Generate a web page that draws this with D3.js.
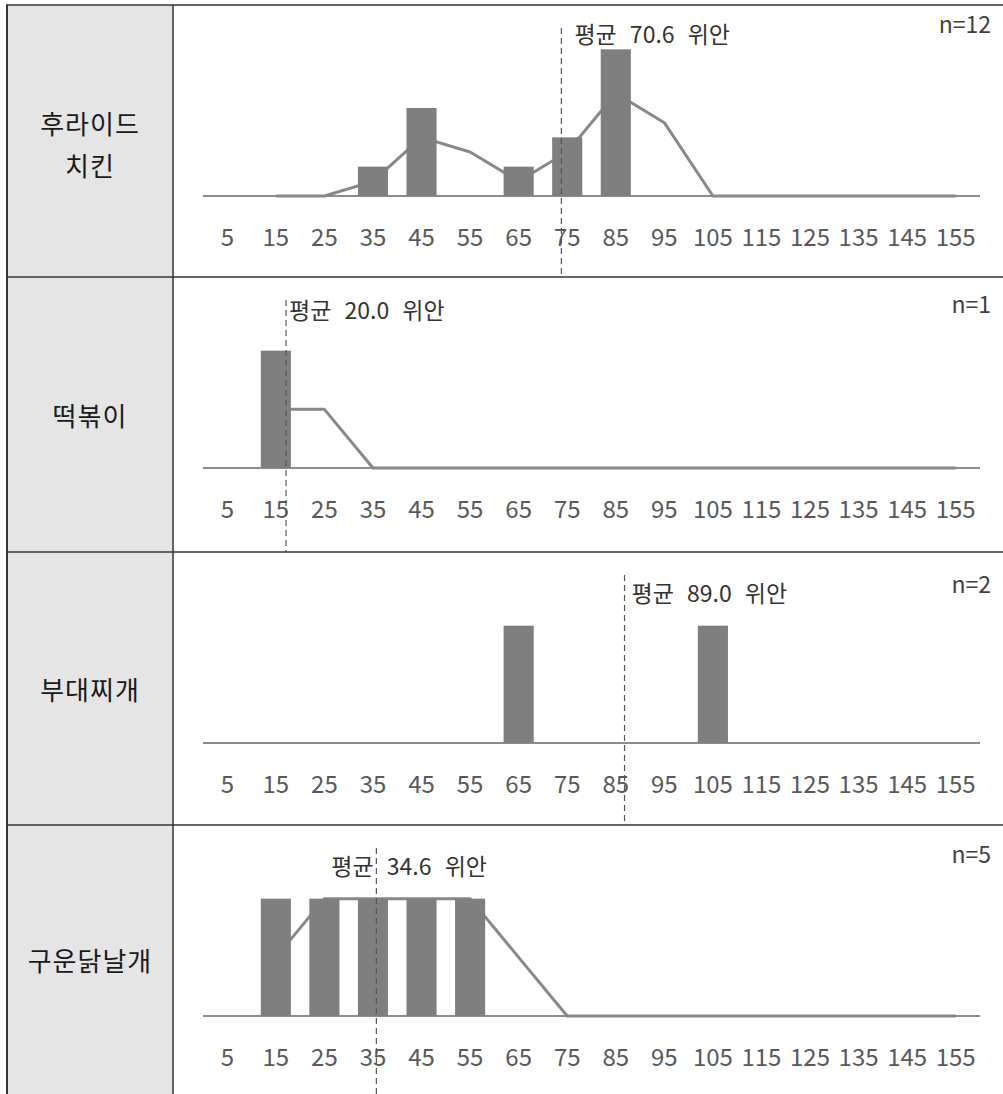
<!DOCTYPE html>
<html>
<head>
<meta charset="utf-8">
<script src="https://cdn.jsdelivr.net/npm/d3@7"></script>
<style>
  html, body { margin: 0; padding: 0; background: #fff; }
  svg text { font-family: "Noto Sans CJK KR", "Noto Sans", sans-serif; }
</style>
</head>
<body>
<svg id="chart" width="1003" height="1094"></svg>
<script>
// ---------- data ----------
const categories = [5, 15, 25, 35, 45, 55, 65, 75, 85, 95, 105, 115, 125, 135, 145, 155];
const rowLabels = [["후라이드", "치킨"], ["떡볶이"], ["부대찌개"], ["구운닭날개"]];
const counts1 = [0, 0, 0, 1, 3, 0, 1, 2, 5, 0, 0, 0, 0, 0, 0, 0];
const counts2 = [0, 1, 0, 0, 0, 0, 0, 0, 0, 0, 0, 0, 0, 0, 0, 0];
const counts3 = [0, 0, 0, 0, 0, 0, 1, 0, 0, 0, 1, 0, 0, 0, 0, 0];
const counts4 = [0, 1, 1, 1, 1, 1, 0, 0, 0, 0, 0, 0, 0, 0, 0, 0];
// trend lines (moving average as drawn in each panel; null = not drawn)
const trend1 = [null, 0, 0, 0.5, 2, 1.5, 0.5, 1.5, 3.5, 2.5, 0, 0, 0, 0, 0, 0];
const trend2 = [null, 0.5, 0.5, 0, 0, 0, 0, 0, 0, 0, 0, 0, 0, 0, 0, 0];
const trend3 = null;
const trend4 = [null, 0.5, 1, 1, 1, 1, 0.5, 0, 0, 0, 0, 0, 0, 0, 0, 0];
const nValues = [12, 1, 2, 5];
const meanValues = [70.6, 20.0, 89.0, 34.6];
// axis value at which the dashed mean marker is drawn in the picture
const meanMarkerAt = [73.8, 17.1, 86.8, 35.7];
const yMaxValues = [6, 1.5, 1.5, 1.5];

const panels = [
  { counts: counts1, trend: trend1 },
  { counts: counts2, trend: trend2 },
  { counts: counts3, trend: trend3 },
  { counts: counts4, trend: trend4 }
];

// ---------- layout ----------
const W = 1003, Hsvg = 1094;
const rowTops = [5, 277, 552, 825];
const rowBottoms = [277, 552, 825, 1094];
const tableLeft = 7, labelRight = 173;
const xLeft = 203, xRight = 980;
const baseOffset = 191;      // baseline below row top
const plotH = 176;           // height of value axis
const meanLabelDx = [13, 3, 7, -45];
const meanLabelDy = [28, 32, 40, 40];
const nLabelDy = [18, 26, 31, 28];

const svg = d3.select("#chart");

// label column background
svg.append("rect")
  .attr("x", tableLeft).attr("y", rowTops[0])
  .attr("width", labelRight - tableLeft).attr("height", Hsvg - rowTops[0])
  .attr("fill", "#e5e5e5");

const xBand = d3.scaleBand().domain(categories).range([xLeft, xRight])
  .paddingInner(0.38).paddingOuter(0.19);
const xCenter = c => xBand(c) + xBand.bandwidth() / 2;
// linear mapping of axis values onto the category positions
const xLin = d3.scaleLinear()
  .domain([categories[0], categories[categories.length - 1]])
  .range([xCenter(categories[0]), xCenter(categories[categories.length - 1])]);

panels.forEach((p, i) => {
  const top = rowTops[i], bottom = rowBottoms[i];
  const base = top + baseOffset;
  const y = d3.scaleLinear().domain([0, yMaxValues[i]]).range([base, base - plotH]);
  const g = svg.append("g");

  // row label
  const lines = rowLabels[i];
  const cy = (top + bottom) / 2 + (lines.length > 1 ? 2 : 0);
  const lh = 42;
  lines.forEach((t, k) => {
    g.append("text")
      .attr("x", (tableLeft + labelRight) / 2)
      .attr("y", cy + (k - (lines.length - 1) / 2) * lh)
      .attr("text-anchor", "middle")
      .attr("dominant-baseline", "central")
      .attr("font-size", 26)
      .attr("letter-spacing", 1)
      .attr("fill", "#1a1a1a")
      .text(t);
  });

  // axis (baseline + tick labels)
  const axis = d3.axisBottom(xBand).tickSize(0).tickPadding(0);
  const ag = g.append("g").attr("transform", `translate(0,${base})`).call(axis);
  ag.select(".domain").attr("stroke", "#8c8c8c").attr("stroke-width", 2)
    .attr("d", `M${xLeft},0H${xRight}`);
  ag.selectAll(".tick text")
    .attr("y", 39).attr("dy", null)
    .attr("dominant-baseline", "central")
    .attr("font-size", 24)
    .attr("font-family", "'Noto Sans CJK KR', 'Noto Sans', sans-serif")
    .attr("fill", "#595959");

  // trend line (behind bars)
  if (p.trend) {
    const pts = categories.map((c, k) => ({ c, v: p.trend[k] })).filter(d => d.v !== null);
    g.append("path")
      .datum(pts)
      .attr("fill", "none")
      .attr("stroke", "#888888")
      .attr("stroke-width", 3)
      .attr("stroke-linejoin", "round")
      .attr("d", d3.line().x(d => xCenter(d.c)).y(d => y(d.v)));
  }

  // bars
  g.selectAll("rect.bar")
    .data(categories.map((c, k) => ({ c, v: p.counts[k] })).filter(d => d.v > 0))
    .join("rect")
    .attr("class", "bar")
    .attr("x", d => xBand(d.c))
    .attr("width", xBand.bandwidth())
    .attr("y", d => y(d.v))
    .attr("height", d => base - y(d.v))
    .attr("fill", "#7f7f7f");

  // mean marker
  const mx = xLin(meanMarkerAt[i]);
  g.append("line")
    .attr("x1", mx).attr("x2", mx)
    .attr("y1", top + 23).attr("y2", bottom)
    .attr("stroke", "#555")
    .attr("stroke-width", 1.2)
    .attr("stroke-dasharray", "6,4");
  g.append("text")
    .attr("x", mx + meanLabelDx[i])
    .attr("y", top + meanLabelDy[i])
    .attr("dominant-baseline", "central")
    .attr("font-size", 23)
    .attr("word-spacing", 8)
    .attr("fill", "#333")
    .text(`평균 ${meanValues[i].toFixed(1)} 위안`);

  // n label
  g.append("text")
    .attr("x", 991)
    .attr("y", top + nLabelDy[i])
    .attr("text-anchor", "end")
    .attr("dominant-baseline", "central")
    .attr("font-size", 23)
    .attr("fill", "#404040")
    .text(`n=${nValues[i]}`);
});

// table borders
const border = svg.append("g").attr("stroke", "#333").attr("fill", "none");
border.append("line").attr("x1", tableLeft).attr("x2", tableLeft)
  .attr("y1", rowTops[0]).attr("y2", Hsvg).attr("stroke-width", 2);
border.append("line").attr("x1", labelRight).attr("x2", labelRight)
  .attr("y1", rowTops[0]).attr("y2", Hsvg).attr("stroke-width", 1.5);
border.append("line").attr("x1", tableLeft - 1).attr("x2", W)
  .attr("y1", rowTops[0]).attr("y2", rowTops[0]).attr("stroke-width", 1.5);
rowTops.slice(1).forEach(t => {
  border.append("line").attr("x1", tableLeft).attr("x2", W)
    .attr("y1", t).attr("y2", t).attr("stroke-width", 1.5);
});
</script>
</body>
</html>
